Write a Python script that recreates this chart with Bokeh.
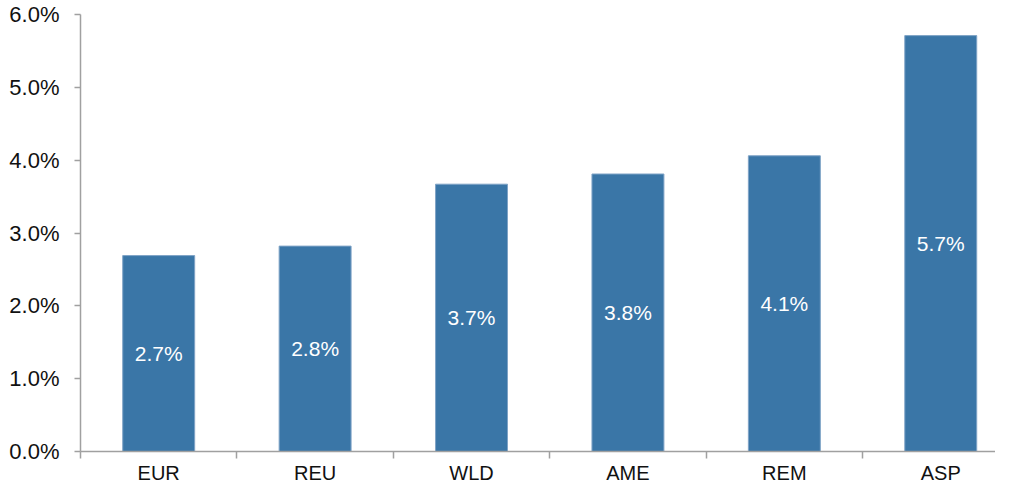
from bokeh.plotting import figure
from bokeh.models import Range1d, FixedTicker, PrintfTickFormatter, ColumnDataSource
from bokeh.core.properties import value
from bokeh.embed import file_html
from bokeh.resources import INLINE

categories = ["EUR", "REU", "WLD", "AME", "REM", "ASP"]
growth = [2.69, 2.82, 3.67, 3.81, 4.06, 5.71]
bar_labels = ["2.7%", "2.8%", "3.7%", "3.8%", "4.1%", "5.7%"]
y_ticks = [0, 1, 2, 3, 4, 5, 6]

FONT = "Liberation Sans"
centers = [i + 0.5 for i in range(len(categories))]
boundaries = [i for i in range(0, len(categories) + 1)]

src = ColumnDataSource(dict(x=centers, top=growth, mid=[v / 2 for v in growth], lab=bar_labels))

p = figure(width=995, height=486, output_backend="svg", toolbar_location=None,
           x_range=Range1d(0, 5.85), y_range=Range1d(0, 6),
           min_border_left=80, min_border_right=0, min_border_top=14, min_border_bottom=34)
p.outline_line_color = None
p.xgrid.visible = False
p.ygrid.visible = False

p.vbar(x="x", top="top", bottom=0, width=0.46, source=src,
       fill_color="#3A76A7", line_color="#7FA3C6", line_width=1)
p.text(x="x", y="mid", text="lab", source=src, text_color="white",
       text_font=value(FONT), text_font_size="21px",
       text_align="center", text_baseline="middle")

ax = p.yaxis[0]
ax.ticker = FixedTicker(ticks=y_ticks, minor_ticks=[])
ax.formatter = PrintfTickFormatter(format="%.1f%%")
ax.axis_line_color = "#A0A0A0"
ax.axis_line_width = 1.5
ax.major_tick_line_color = "#A0A0A0"
ax.major_tick_line_width = 1.5
ax.major_tick_out = 6
ax.major_tick_in = 0
ax.minor_tick_line_color = None
ax.major_label_text_font = FONT
ax.major_label_text_font_size = "22px"
ax.major_label_text_color = "#111111"
ax.major_label_standoff = 15

xa = p.xaxis[0]
xa.ticker = FixedTicker(ticks=centers, minor_ticks=boundaries)
xa.major_label_overrides = {c: n for c, n in zip(centers, categories)}
xa.axis_line_color = "#A0A0A0"
xa.axis_line_width = 1.5
xa.major_tick_line_color = None
xa.major_tick_out = 0
xa.major_tick_in = 0
xa.minor_tick_line_color = "#A0A0A0"
xa.minor_tick_line_width = 1.5
xa.minor_tick_out = 7
xa.minor_tick_in = 0
xa.major_label_text_font = FONT
xa.major_label_text_font_size = "20px"
xa.major_label_text_color = "#111111"
xa.major_label_standoff = 3

open("out.html", "w").write(file_html(p, INLINE))
